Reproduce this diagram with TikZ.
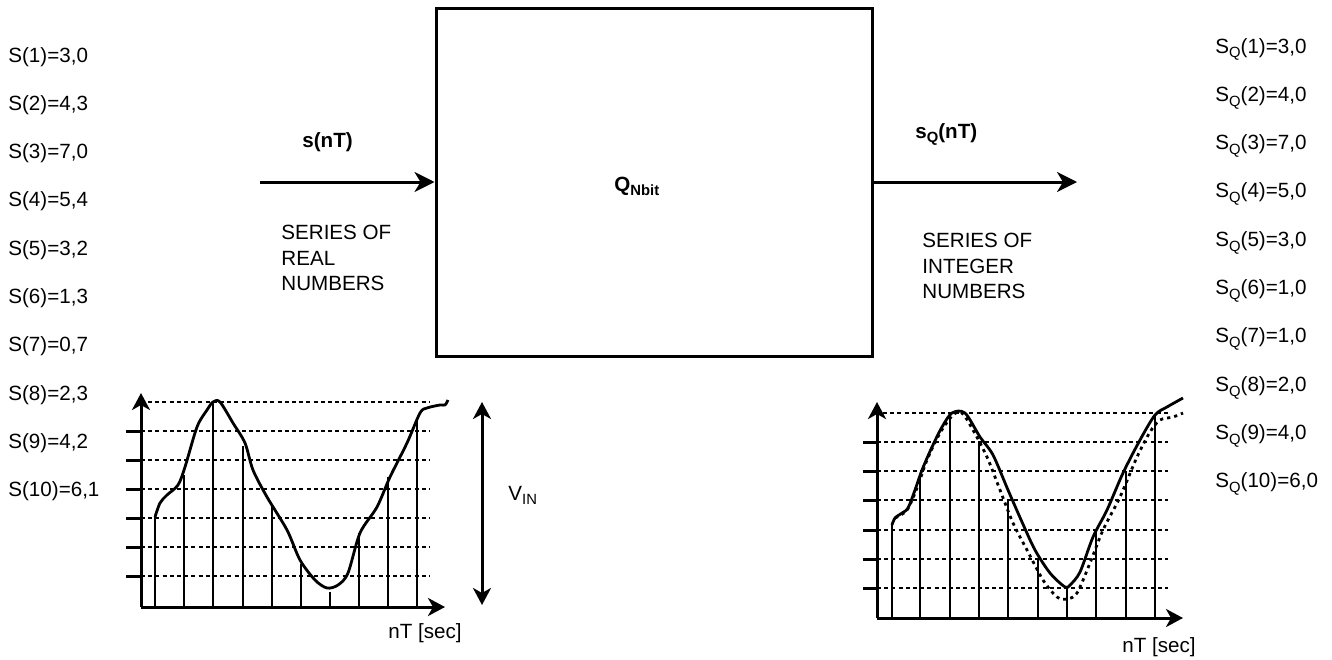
\documentclass[tikz,border=0pt]{standalone}
\usepackage{fontspec}
\setmainfont{Liberation Sans}
\usetikzlibrary{arrows.meta}
\newcommand{\lowsub}[1]{\raisebox{-0.45ex}{\fontsize{7.4}{8}\selectfont #1}}

\begin{document}
\begin{tikzpicture}[
    x=0.5pt, y=-0.5pt,
    txt/.style={inner sep=0pt,anchor=base west,font=\fontsize{10.3}{12.75}\selectfont},
    boldtxt/.style={txt,font=\fontsize{10.3}{12.75}\selectfont\bfseries},
    para/.style={inner sep=0pt,anchor=north west,align=left,font=\fontsize{10.3}{12.75}\selectfont},
    block/.style={draw,line width=1.5pt,minimum width=218pt,minimum height=174pt,inner sep=0pt},
    flow/.style={-{Stealth[length=10pt,width=10pt,inset=3pt]},line width=1.5pt},
    axisarr/.style={-{Stealth[length=8.5pt,width=9pt,inset=2.5pt]},line width=1.5pt},
    gridline/.style={line width=1.3pt,dash pattern=on 2pt off 1.6pt},
    tickmark/.style={line width=1.5pt},
    smp/.style={line width=1.1pt},
    sigline/.style={line width=1.4pt,line join=round},
    quantline/.style={line width=1.4pt,dash pattern=on 1.6pt off 2pt}
  ]
  \useasboundingbox (0,0) rectangle (1332,659);

  % quantizer block
  \node[block] (quantizer) at (654,182) {};
  \node[boldtxt] (qlbl) at (614,191) {Q\lowsub{Nbit}};
  \coordinate (in) at (260,182);
  \coordinate (out) at (1077,182);
  \draw[flow] (in) -- (quantizer.west);
  \draw[flow] (quantizer.east) -- (out);

  \node[boldtxt] (snt) at (302,147) {s(nT)};
  \node[boldtxt] (sqnt) at (915,138) {s\lowsub{Q}(nT)};
  \node[para] (realtxt) at (281,225) {SERIES OF\\REAL\\NUMBERS};
  \node[para] (inttxt) at (922,233) {SERIES OF\\INTEGER\\NUMBERS};

  % sample values
  \foreach \i/\v in {1/{3,0},2/{4,3},3/{7,0},4/{5,4},5/{3,2},6/{1,3},7/{0,7},8/{2,3},9/{4,2},10/{6,1}}
    \node[txt] (s\i) at (8,{62+48.3*(\i-1)}) {S(\i)=\v};
  \foreach \i/\v in {1/{3,0},2/{4,0},3/{7,0},4/{5,0},5/{3,0},6/{1,0},7/{1,0},8/{2,0},9/{4,0},10/{6,0}}
    \node[txt] (sq\i) at (1215,{53+48.3*(\i-1)}) {S\lowsub{Q}(\i)=\v};

  % left plot
  \draw[gridline] (148,402) -- (430,402);
  \foreach \y in {431,460,489,518,547,576} {
    \draw[tickmark] (126,\y) -- (141,\y);
    \draw[gridline] (141,\y) -- (430,\y);
  }
  \foreach \x/\t in {155/517,184/475,213/402,243/446,272/505,301/564,330/592,359/533,388/477,417/420}
    \draw[smp] (\x,607) -- (\x,\t);
  \draw[sigline] plot[smooth,tension=0.5] coordinates {(155,517) (160,503) (167,495) (178,485) (185,467) (197,427) (207,410) (213,402) (220,402) (233,423) (245,443) (253,470) (267,497) (287,530) (300,560) (315,580) (327,588) (338,585) (348,573) (360,533) (377,507) (390,477) (407,443) (420,413) (427,408) (440,405) (445,405) (448,400)};
  \coordinate (lo) at (141,607);
  \draw[axisarr] (lo) -- (141,393);
  \draw[axisarr] (lo) -- (445,607);
  \node[txt] (tleft) at (388,638) {nT [sec]};

  \coordinate (vtop) at (482,402);
  \coordinate (vbot) at (482,605);
  \draw[{Stealth[length=8.5pt,width=9pt,inset=2.5pt]}-{Stealth[length=8.5pt,width=9pt,inset=2.5pt]},line width=1.5pt] (vtop) -- (vbot);
  \node[txt] (vin) at (508,500) {V\lowsub{IN}};

  % right plot
  \draw[gridline] (883,413) -- (1168,413);
  \foreach \y in {442,471,500,530,559,588} {
    \draw[tickmark] (863,\y) -- (877,\y);
    \draw[gridline] (877,\y) -- (1168,\y);
  }
  \foreach \x/\t in {892/525,920/475,950/413,979/442,1008/500,1038/560,1067/588,1096/530,1126/471,1155/415}
    \draw[smp] (\x,618) -- (\x,\t);
  \draw[sigline] plot[smooth,tension=0.5] coordinates {(892,525) (895,518) (902,513) (908,508) (915,490) (922,470) (932,447) (942,427) (952,413) (965,413) (980,437) (993,455) (1008,490) (1022,522) (1035,550) (1050,573) (1065,587) (1070,585) (1080,572) (1093,537) (1107,510) (1123,473) (1140,440) (1155,415) (1167,407) (1183,398)};
  \draw[quantline] plot[smooth,tension=0.5] coordinates {(895,518) (907,510) (917,488) (927,460) (940,433) (953,415) (962,413) (973,430) (987,457) (1000,490) (1013,523) (1027,550) (1043,580) (1057,597) (1067,599) (1077,593) (1090,563) (1103,530) (1120,497) (1137,457) (1150,432) (1160,420) (1173,417) (1183,413)};
  \coordinate (ro) at (877,618);
  \draw[axisarr] (ro) -- (877,402);
  \draw[axisarr] (ro) -- (1183,618);
  \node[txt] (tright) at (1122,652) {nT [sec]};
\end{tikzpicture}
\end{document}
